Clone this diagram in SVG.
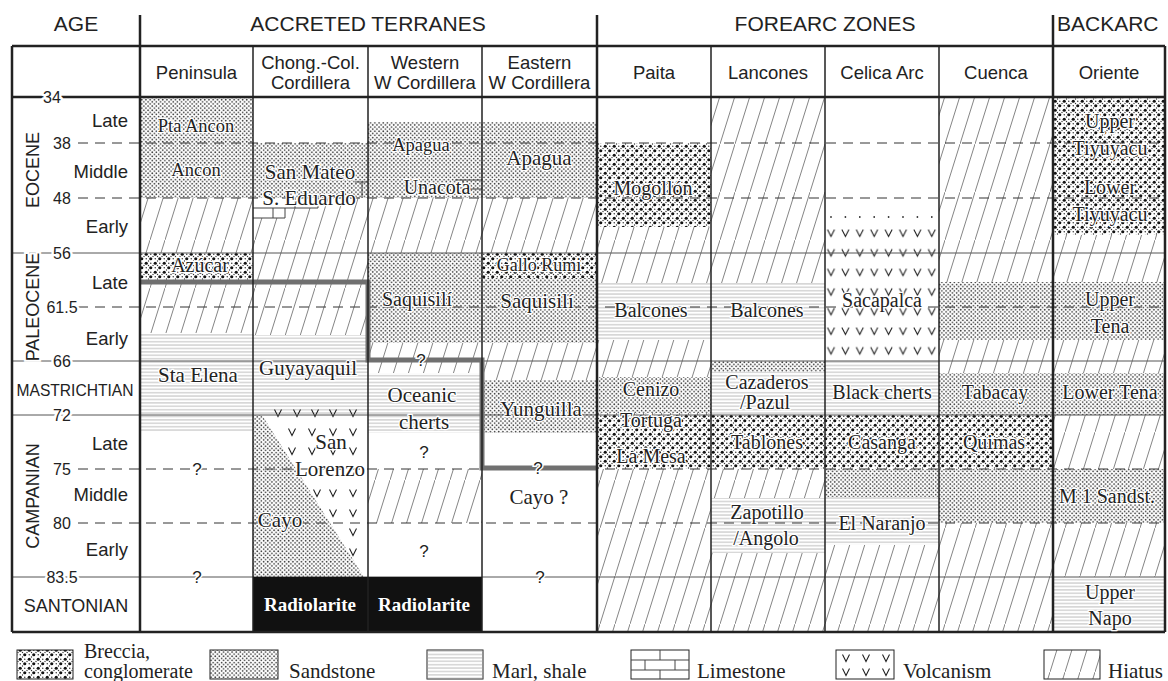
<svg xmlns="http://www.w3.org/2000/svg" width="1168" height="681" viewBox="0 0 1168 681">
<defs>
<pattern id="sand" patternUnits="userSpaceOnUse" width="4.2" height="4.2"><circle cx="1.05" cy="1.05" r="0.85" fill="#333"/><circle cx="3.15" cy="3.15" r="0.85" fill="#333"/></pattern>
<pattern id="brec" patternUnits="userSpaceOnUse" width="9" height="9"><circle cx="2.25" cy="2.25" r="1.6" fill="#111"/><circle cx="6.75" cy="6.75" r="1.6" fill="#111"/><circle cx="6.75" cy="2.25" r="0.75" fill="#333"/><circle cx="2.25" cy="6.75" r="0.75" fill="#333"/><circle cx="4.5" cy="4.5" r="0.7" fill="#333"/><circle cx="0" cy="4.5" r="0.7" fill="#333"/><circle cx="9" cy="4.5" r="0.7" fill="#333"/><circle cx="4.5" cy="0" r="0.7" fill="#333"/><circle cx="4.5" cy="9" r="0.7" fill="#333"/></pattern>
<pattern id="marl" patternUnits="userSpaceOnUse" width="6" height="3.4"><line x1="0" y1="1.7" x2="6" y2="1.7" stroke="#999" stroke-width="0.7"/></pattern>
<pattern id="hiat" patternUnits="userSpaceOnUse" width="15" height="48"><line x1="0" y1="48" x2="15" y2="0" stroke="#6e6e6e" stroke-width="0.85"/></pattern>
<pattern id="vpat" patternUnits="userSpaceOnUse" x="823.8" y="223.2" width="14.4" height="19.6"><path d="M3.7,6.3 L7.2,13.3 L10.7,6.3" fill="none" stroke="#222" stroke-width="1.1"/></pattern>
<path id="vv" d="M-3.5,-3.5 L0,3.5 L3.5,-3.5" fill="none" stroke="#222" stroke-width="1.1"/>
<style>
.sa{fill:url(#sand)} .br{fill:url(#brec)} .ma{fill:url(#marl)} .hi{fill:url(#hiat)}
.sans{font-family:"Liberation Sans",Arial,sans-serif;fill:#222}
.h1{font-size:21px;text-anchor:middle}
.h2{font-size:18.5px;text-anchor:middle}
.stg{font-size:18.5px;text-anchor:end}
.num{font-size:16px;text-anchor:middle;stroke:#fff;stroke-width:5;paint-order:stroke;stroke-linejoin:round}
.era{font-size:18px;text-anchor:middle;stroke:#fff;stroke-width:4;paint-order:stroke}
.q{font-size:17px;text-anchor:middle;stroke:#fff;stroke-width:3;paint-order:stroke}
.s{font-family:"Liberation Serif","Times New Roman",serif;font-size:20px;text-anchor:middle;fill:#222;stroke:#fff;stroke-width:2.5;paint-order:stroke;stroke-linejoin:round}
.sm{font-size:18.5px}
.rad{font-family:"Liberation Serif","Times New Roman",serif;font-size:19px;font-weight:bold;text-anchor:middle;fill:#fff}
.lg{font-family:"Liberation Serif","Times New Roman",serif;font-size:21px;fill:#222}
.thin{stroke:#555;stroke-width:1;fill:none}
.dash{stroke:#333;stroke-width:1;stroke-dasharray:10 7;fill:none}
.lime{stroke:#444;stroke-width:1;fill:none}
</style>
</defs>
<rect width="1168" height="681" fill="#fff"/>

<g id="col-peninsula">
<rect class="sa" x="140" y="97" width="113" height="101"/>
<rect class="hi" x="140" y="198" width="113" height="55"/>
<rect class="br" x="140" y="253" width="113" height="29"/>
<rect class="hi" x="140" y="282" width="113" height="51"/>
<rect class="ma" x="140" y="333" width="113" height="99"/>
</g>
<g id="col-chong">
<rect class="sa" x="253" y="143" width="115" height="55"/>
<rect class="hi" x="253" y="198" width="115" height="137"/>
<polygon points="253,198 318,198 318,208 285,208 285,218 253,218" fill="#fff"/>
<path class="lime" d="M253,208H318M295,198V208M318,198V208M253,218H285M273,208V218M285,208V218M355,182H368M362,182V198"/>
<rect class="ma" x="253" y="335" width="115" height="80"/>
<polygon class="sa" points="253,415 262,415 364,577 253,577"/>
<g>
<use href="#vv" x="278" y="413"/><use href="#vv" x="297" y="413"/><use href="#vv" x="315" y="413"/><use href="#vv" x="333" y="413"/><use href="#vv" x="353" y="413"/>
<use href="#vv" x="292" y="432"/><use href="#vv" x="312" y="432"/><use href="#vv" x="333" y="432"/><use href="#vv" x="353" y="432"/>
<use href="#vv" x="292" y="451"/><use href="#vv" x="312" y="451"/><use href="#vv" x="333" y="451"/><use href="#vv" x="353" y="451"/>
<use href="#vv" x="317" y="493"/><use href="#vv" x="333" y="493"/><use href="#vv" x="353" y="493"/>
<use href="#vv" x="333" y="513"/><use href="#vv" x="353" y="513"/>
<use href="#vv" x="353" y="532"/><use href="#vv" x="353" y="552"/>
</g>
</g>
<g id="col-western">
<rect class="sa" x="368" y="122" width="114" height="76"/>
<path class="lime" d="M455,180H482M463,180V189M470,189H482"/>
<rect class="hi" x="368" y="198" width="114" height="55"/>
<rect class="sa" x="368" y="253" width="114" height="90"/>
<rect class="hi" x="368" y="343" width="114" height="30"/>
<rect class="ma" x="368" y="373" width="114" height="60"/>
<rect class="hi" x="368" y="469" width="114" height="54"/>
</g>
<g id="col-eastern">
<rect class="sa" x="482" y="122" width="115" height="76"/>
<rect class="hi" x="482" y="198" width="115" height="55"/>
<rect class="br" x="482" y="253" width="115" height="25"/>
<rect class="sa" x="482" y="278" width="115" height="65"/>
<rect class="hi" x="482" y="343" width="115" height="37"/>
<rect class="sa" x="482" y="380" width="115" height="53"/>
</g>
<g id="col-paita">
<rect class="br" x="597" y="143" width="114" height="84"/>
<rect class="hi" x="597" y="227" width="114" height="56"/>
<rect class="ma" x="597" y="283" width="114" height="57"/>
<rect class="hi" x="597" y="340" width="114" height="37"/>
<rect class="sa" x="597" y="377" width="114" height="36"/>
<rect class="br" x="597" y="413" width="114" height="56"/>
<rect class="hi" x="597" y="469" width="114" height="163"/>
</g>
<g id="col-lancones">
<rect class="hi" x="711" y="97" width="114" height="186"/>
<rect class="ma" x="711" y="283" width="114" height="57"/>
<rect class="sa" x="711" y="361" width="114" height="11"/>
<rect class="ma" x="711" y="372" width="114" height="43"/>
<rect class="br" x="711" y="415" width="114" height="54"/>
<rect class="hi" x="711" y="469" width="114" height="29"/>
<rect class="ma" x="711" y="498" width="114" height="55"/>
<rect class="hi" x="711" y="553" width="114" height="79"/>
</g>
<g id="col-celica">
<path d="M831,217h0M845.4,217h0M859.8,217h0M874.2,217h0M888.6,217h0M903,217h0M917.4,217h0M931.8,217h0" stroke="#333" stroke-width="1.8" stroke-linecap="round"/>
<rect fill="url(#vpat)" x="825" y="224" width="114" height="136"/>
<rect class="ma" x="825" y="361" width="114" height="54"/>
<rect class="br" x="825" y="415" width="114" height="54"/>
<rect class="sa" x="825" y="469" width="114" height="28"/>
<rect class="ma" x="825" y="497" width="114" height="48"/>
<rect class="hi" x="825" y="545" width="114" height="87"/>
</g>
<g id="col-cuenca">
<rect class="hi" x="939" y="97" width="114" height="185"/>
<rect class="sa" x="939" y="282" width="114" height="58"/>
<rect class="hi" x="939" y="340" width="114" height="33"/>
<rect class="sa" x="939" y="373" width="114" height="42"/>
<rect class="br" x="939" y="415" width="114" height="54"/>
<rect class="sa" x="939" y="469" width="114" height="54"/>
<rect class="hi" x="939" y="523" width="114" height="109"/>
</g>
<g id="col-oriente">
<rect class="br" x="1053" y="97" width="112" height="138"/>
<rect class="hi" x="1053" y="235" width="112" height="47"/>
<rect class="sa" x="1053" y="282" width="112" height="58"/>
<rect class="hi" x="1053" y="340" width="112" height="33"/>
<rect class="sa" x="1053" y="373" width="112" height="42"/>
<rect class="hi" x="1053" y="415" width="112" height="54"/>
<rect class="sa" x="1053" y="469" width="112" height="54"/>
<rect class="hi" x="1053" y="523" width="112" height="54"/>
<rect class="ma" x="1053" y="577" width="112" height="55"/>
</g>

<g id="time-lines">
<path class="thin" d="M12,253H1165M12,361H1165M12,415H1165M12,577H1165"/>
<path class="dash" d="M78,143H1165M78,198H1165M78,307H1165M78,469H1165M78,523H1165"/>
</g>
<rect id="radiolarite" x="253" y="577" width="229" height="55" fill="#111"/>
<path id="boundary" d="M140,282H368V360H482V468H597" fill="none" stroke="#707070" stroke-width="5"/>

<g id="grid" fill="none" stroke="#222">
<path stroke-width="2.5" d="M12,46H1165M12,97H1165M12,632H1165M12,46V632M1165,46V632M140,15V632M597,15V632M1053,15V632"/>
<path stroke-width="1.5" d="M253,46V632M368,46V632M482,46V632M711,46V632M825,46V632M939,46V632"/>
</g>

<g id="headers" class="sans">
<text class="h1" x="76" y="31">AGE</text>
<text class="h1" x="368" y="31">ACCRETED TERRANES</text>
<text class="h1" x="825" y="31">FOREARC ZONES</text>
<text x="1057" y="31" style="font-size:21px">BACKARC</text>
<text class="h2" x="196.5" y="79">Peninsula</text>
<text class="h2" x="310.5" y="69">Chong.-Col.</text>
<text class="h2" x="310.5" y="89">Cordillera</text>
<text class="h2" x="425" y="69">Western</text>
<text class="h2" x="425" y="89">W Cordillera</text>
<text class="h2" x="539.5" y="69">Eastern</text>
<text class="h2" x="539.5" y="89">W Cordillera</text>
<text class="h2" x="654" y="79">Paita</text>
<text class="h2" x="768" y="79">Lancones</text>
<text class="h2" x="882" y="79">Celica Arc</text>
<text class="h2" x="996" y="79">Cuenca</text>
<text class="h2" x="1109" y="79">Oriente</text>
</g>

<g id="age" class="sans">
<text class="num" x="52" y="102.7">34</text>
<text class="num" x="62" y="148.7">38</text>
<text class="num" x="62" y="203.7">48</text>
<text class="num" x="62" y="258.7">56</text>
<text class="num" x="62" y="312.7">61.5</text>
<text class="num" x="62" y="366.7">66</text>
<text class="num" x="62" y="420.7">72</text>
<text class="num" x="62" y="474.7">75</text>
<text class="num" x="62" y="528.7">80</text>
<text class="num" x="62" y="582.7">83.5</text>
<text class="stg" x="128" y="127">Late</text>
<text class="stg" x="128" y="178">Middle</text>
<text class="stg" x="128" y="233">Early</text>
<text class="stg" x="128" y="289">Late</text>
<text class="stg" x="128" y="345">Early</text>
<text class="stg" x="128" y="450">Late</text>
<text class="stg" x="128" y="501">Middle</text>
<text class="stg" x="128" y="556">Early</text>
<text class="era" transform="translate(38.5,170) rotate(-90)">EOCENE</text>
<text class="era" transform="translate(38.5,307) rotate(-90)">PALEOCENE</text>
<text class="era" transform="translate(38.5,496) rotate(-90)">CAMPANIAN</text>
<text x="75" y="396" style="font-size:17px;text-anchor:middle" textLength="117" lengthAdjust="spacingAndGlyphs">MASTRICHTIAN</text>
<text x="76" y="611.5" style="font-size:18px;text-anchor:middle">SANTONIAN</text>
</g>

<g id="labels">
<text class="s sm" x="196" y="132">Pta Ancon</text>
<text class="s sm" x="196" y="176">Ancon</text>
<text class="s" x="200" y="272">Azúcar</text>
<text class="s" x="198" y="382" style="font-size:21px">Sta Elena</text>
<text class="sans q" x="197" y="475">?</text>
<text class="sans q" x="197" y="583">?</text>

<text class="s" x="310" y="179" style="font-size:21px">San Mateo</text>
<text class="s" x="309" y="205" style="font-size:21px">S. Eduardo</text>
<text class="s" x="308" y="375" style="font-size:21px">Guyayaquil</text>
<text class="s" x="331" y="449" style="font-size:21px">San</text>
<text class="s" x="330" y="476" style="font-size:21px">Lorenzo</text>
<text class="s" x="280" y="527" style="font-size:21px">Cayo</text>
<text class="rad" x="310" y="611">Radiolarite</text>

<text class="s sm" x="421" y="151">Apagua</text>
<text class="s" x="437" y="194">Unacota</text>
<text class="s" x="417" y="306">Saquisilí</text>
<text class="sans q" x="421" y="366">?</text>
<text class="s" x="422" y="402" style="font-size:21px">Oceanic</text>
<text class="s" x="424" y="429" style="font-size:21px">cherts</text>
<text class="sans q" x="424" y="458">?</text>
<text class="sans q" x="424" y="557">?</text>
<text class="rad" x="424" y="611">Radiolarite</text>

<text class="s" x="539" y="165" style="font-size:21px">Apagua</text>
<text class="s" x="539" y="271" style="font-size:18px">Gallo Rumi</text>
<text class="s" x="537" y="308" style="font-size:21px">Saquisilí</text>
<text class="s" x="541" y="416" style="font-size:21px">Yunguilla</text>
<text class="sans q" x="538" y="474">?</text>
<text class="s" x="539" y="504" style="font-size:21px">Cayo ?</text>
<text class="sans q" x="540" y="583">?</text>

<text class="s" x="653" y="195">Mogollón</text>
<text class="s" x="651" y="317">Balcones</text>
<text class="s" x="651" y="396">Cenizo</text>
<text class="s" x="651" y="427">Tortuga</text>
<text class="s" x="651" y="463">La Mesa</text>

<text class="s" x="767" y="317">Balcones</text>
<text class="s" x="767" y="389">Cazaderos</text>
<text class="s" x="765" y="409">/Pazul</text>
<text class="s" x="767" y="449">Tablones</text>
<text class="s" x="767" y="519">Zapotillo</text>
<text class="s" x="766" y="545">/Angolo</text>

<text class="s" x="882" y="307">Sacapalca</text>
<text class="s" x="882" y="399">Black cherts</text>
<text class="s" x="882" y="449">Casanga</text>
<text class="s" x="882" y="530">El Naranjo</text>

<text class="s" x="995" y="399">Tabacay</text>
<text class="s" x="994" y="449">Quimas</text>

<text class="s" x="1110" y="128">Upper</text>
<text class="s" x="1110" y="155">Tiyuyacu</text>
<text class="s" x="1110" y="194">Lower</text>
<text class="s" x="1110" y="221">Tiyuyacu</text>
<text class="s" x="1110" y="306">Upper</text>
<text class="s" x="1110" y="333">Tena</text>
<text class="s" x="1110" y="399">Lower Tena</text>
<text class="s" x="1107" y="503">M 1 Sandst.</text>
<text class="s" x="1110" y="599">Upper</text>
<text class="s" x="1110" y="625">Napo</text>
</g>

<g id="legend">
<rect class="br" x="17" y="650" width="56" height="29" stroke="#222" stroke-width="1"/>
<text class="lg" x="84" y="658" style="font-size:20px">Breccia,</text>
<text class="lg" x="84" y="678" style="font-size:20px">conglomerate</text>
<rect class="sa" x="210" y="650" width="68" height="29" stroke="#222" stroke-width="1"/>
<text class="lg" x="289" y="678">Sandstone</text>
<rect x="427" y="650" width="56" height="29" fill="#fff" stroke="#222" stroke-width="1"/>
<rect class="ma" x="427" y="650" width="56" height="29"/>
<text class="lg" x="492" y="678">Marl, shale</text>
<rect x="631" y="650" width="58" height="29" fill="#fff" stroke="#222" stroke-width="1"/>
<path class="lime" d="M631,660H689M631,670H689M660,650V660M645,660V670M675,660V670M660,670V679"/>
<text class="lg" x="697" y="678">Limestone</text>
<rect x="836" y="650" width="58" height="29" fill="#fff" stroke="#222" stroke-width="1"/>
<use href="#vv" x="846" y="658"/><use href="#vv" x="866" y="658"/><use href="#vv" x="886" y="658"/>
<use href="#vv" x="846" y="672"/><use href="#vv" x="866" y="672"/><use href="#vv" x="886" y="672"/>
<text class="lg" x="903" y="678">Volcanism</text>
<rect class="hi" x="1044" y="650" width="56" height="29" stroke="#222" stroke-width="1"/>
<text class="lg" x="1108" y="678">Hiatus</text>
</g>
</svg>
